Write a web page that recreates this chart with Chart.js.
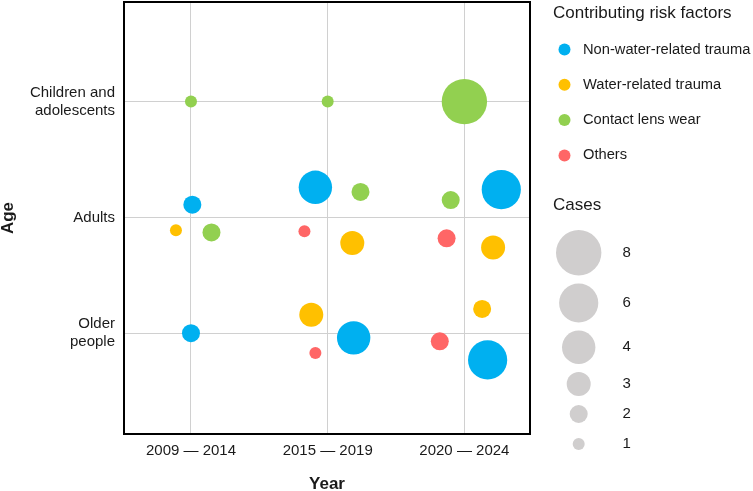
<!DOCTYPE html>
<html>
<head>
<meta charset="utf-8">
<title>Risk factors by age and period</title>
<script src="https://cdn.jsdelivr.net/npm/chart.js@4"></script>
<style>
	html, body { margin: 0; padding: 0; background: #fff; }
	#wrap { width: 753px; height: 491px; position: relative; }
</style>
</head>
<body>
<div id="wrap"><canvas id="chart"></canvas></div>
<script>
// categories
const periods = ['2009 — 2014', '2015 — 2019', '2020 — 2024'];
// y = 1, 2, 3
const ageGroups = [['Older', 'people'], 'Adults', ['Children and', 'adolescents']];

// series (x = period index, y = age index, both jittered as in the figure)
const nonWaterX = [0.01, 0.91, 2.27, 0.0, 1.19, 2.17];
const nonWaterY = [2.11, 2.26, 2.24, 1.0, 0.96, 0.77];
const nonWaterCases = [2, 4, 6, 2, 4, 6];

const waterX = [-0.11, 1.18, 2.21, 0.88, 2.13];
const waterY = [1.89, 1.78, 1.74, 1.16, 1.21];
const waterCases = [1, 3, 3, 3, 2];

const lensX = [0.0, 1.0, 2.0, 0.15, 1.24, 1.9];
const lensY = [3.0, 3.0, 3.0, 1.87, 2.22, 2.15];
const lensCases = [1, 1, 8, 2, 2, 2];

const otherX = [0.83, 1.87, 0.91, 1.82];
const otherY = [1.88, 1.82, 0.83, 0.93];
const otherCases = [1, 2, 1, 2];

// size legend steps
const caseSteps = [8, 6, 4, 3, 2, 1];

const FONT = "'Liberation Sans', Arial, sans-serif";
const COLORS = {
	blue: '#00b0f0',
	orange: '#ffc000',
	green: '#92d050',
	red: '#ff6666',
	grey: '#d0cece',
};

// bubble radius (px) for a number of cases
function radiusFor(c) {
	const map = { 1: 6, 2: 9, 3: 12, 4: 16.7, 5: 18.2, 6: 19.6, 7: 21.2, 8: 22.7 };
	return map[c] || 6;
}

function toPoints(xs, ys, cases) {
	return xs.map((x, i) => ({ x, y: ys[i], r: radiusFor(cases[i]), cases: cases[i] }));
}

const datasets = [
	{ label: 'Non-water-related trauma', data: toPoints(nonWaterX, nonWaterY, nonWaterCases), backgroundColor: COLORS.blue },
	{ label: 'Water-related trauma', data: toPoints(waterX, waterY, waterCases), backgroundColor: COLORS.orange },
	{ label: 'Contact lens wear', data: toPoints(lensX, lensY, lensCases), backgroundColor: COLORS.green },
	{ label: 'Others', data: toPoints(otherX, otherY, otherCases), backgroundColor: COLORS.red },
];

// frame round the plot + the legends on the right
const sidePanel = {
	id: 'sidePanel',
	afterDraw(chart) {
		const { ctx, chartArea: a } = chart;
		ctx.save();
		ctx.strokeStyle = '#000';
		ctx.lineWidth = 2;
		ctx.strokeRect(a.left, a.top, a.right - a.left, a.bottom - a.top);

		const x0 = 553;
		ctx.fillStyle = '#1a1a1a';
		ctx.textBaseline = 'middle';
		ctx.textAlign = 'left';
		ctx.font = `17px ${FONT}`;
		ctx.fillText('Contributing risk factors', x0, 13);

		let y = 49.5;
		chart.data.datasets.forEach((ds) => {
			ctx.beginPath();
			ctx.fillStyle = ds.backgroundColor;
			ctx.arc(564.5, y, 6, 0, Math.PI * 2);
			ctx.fill();
			ctx.fillStyle = '#1a1a1a';
			ctx.font = `14.7px ${FONT}`;
			ctx.fillText(ds.label, 583, y);
			y += 35.3;
		});

		ctx.font = `17px ${FONT}`;
		ctx.fillText('Cases', x0, 205);

		let cy = 252.7;
		let prevR = null;
		caseSteps.forEach((c) => {
			const r = radiusFor(c);
			if (prevR !== null) cy += Math.max(prevR + r + 8, 30);
			ctx.beginPath();
			ctx.fillStyle = COLORS.grey;
			ctx.arc(578.7, cy, r, 0, Math.PI * 2);
			ctx.fill();
			ctx.fillStyle = '#1a1a1a';
			ctx.font = `15px ${FONT}`;
			ctx.fillText(String(c), 622.5, cy);
			prevR = r;
		});
		ctx.restore();
	},
};

new Chart(document.getElementById('chart'), {
	type: 'bubble',
	data: { datasets },
	plugins: [sidePanel],
	options: {
		responsive: true,
		maintainAspectRatio: false,
		animation: false,
		// bubbles would otherwise push the plot down by their radius
		layout: { autoPadding: false, padding: { top: 2, right: 223, left: 0, bottom: 0 } },
		elements: { point: { borderWidth: 0, hoverBorderWidth: 0, hoverRadius: 0 } },
		plugins: {
			legend: { display: false },
			tooltip: { enabled: false },
		},
		scales: {
			x: {
				type: 'linear',
				min: -0.49,
				max: 2.48,
				afterFit: (s) => {
					s.height = 57;
					s.paddingLeft = 0;
					s.paddingRight = 0;
				},
				afterBuildTicks: (s) => { s.ticks = periods.map((p, i) => ({ value: i })); },
				grid: { color: '#d0d0d0', lineWidth: 1, drawTicks: false },
				border: { display: false },
				ticks: {
					padding: 8,
					maxRotation: 0,
					autoSkip: false,
					color: '#1a1a1a',
					font: { family: FONT, size: 15 },
					callback: (v) => periods[v],
				},
				title: {
					display: true,
					text: 'Year',
					color: '#1a1a1a',
					font: { family: FONT, size: 17, weight: 'bold', lineHeight: 0.8 },
					padding: 0,
				},
			},
			y: {
				type: 'linear',
				min: 0.13,
				max: 3.86,
				afterFit: (s) => {
					s.width = 124;
					s.paddingTop = 0;
					s.paddingBottom = 0;
				},
				afterBuildTicks: (s) => { s.ticks = ageGroups.map((g, i) => ({ value: i + 1 })); },
				grid: { color: '#d0d0d0', lineWidth: 1, drawTicks: false },
				border: { display: false },
				ticks: {
					padding: 9,
					autoSkip: false,
					color: '#1a1a1a',
					font: { family: FONT, size: 15 },
					callback: (v) => ageGroups[v - 1],
				},
				title: {
					display: true,
					text: 'Age',
					color: '#1a1a1a',
					font: { family: FONT, size: 17, weight: 'bold', lineHeight: 0.8 },
					padding: { top: 2, bottom: 0 },
				},
			},
		},
	},
});
</script>
</body>
</html>
